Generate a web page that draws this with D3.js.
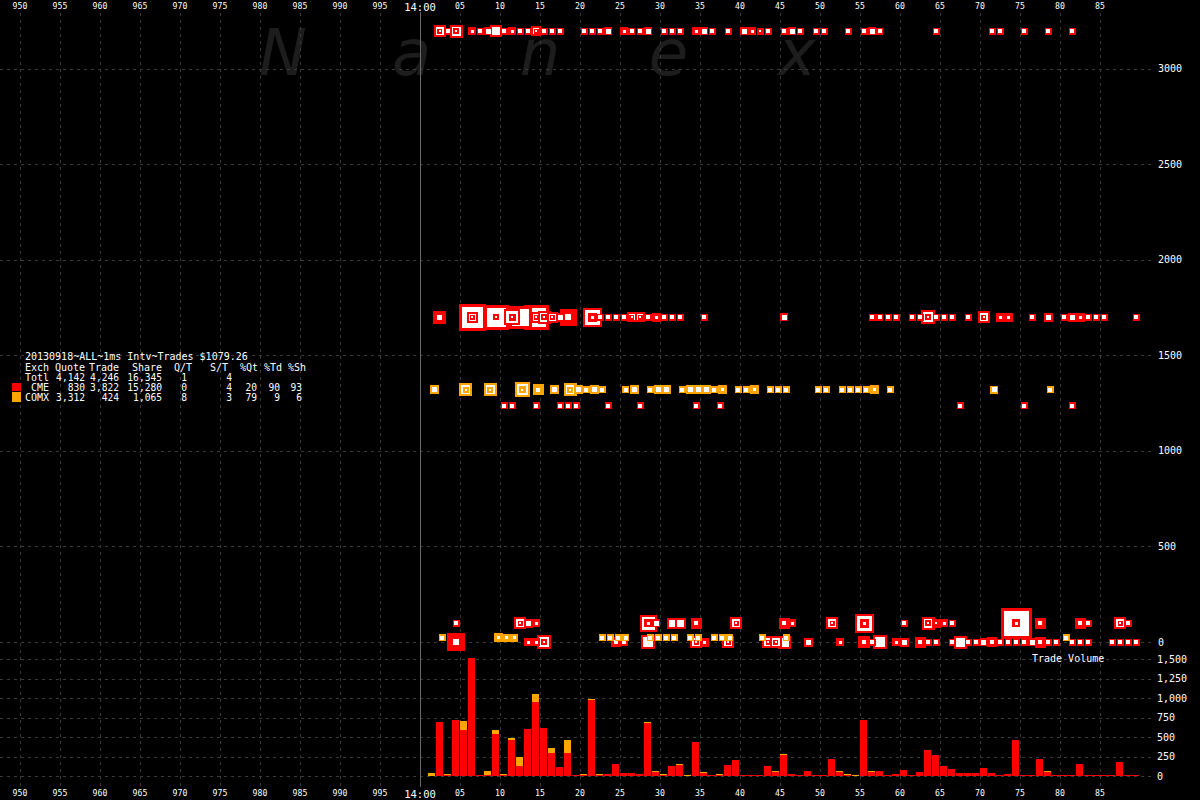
<!DOCTYPE html>
<html><head><meta charset="utf-8">
<script src="https://cdn.jsdelivr.net/npm/d3@7"></script>
<style>html,body{margin:0;background:#000;} svg{display:block}</style>
</head><body><svg id="c" width="1200" height="800"></svg>
<script>
// ---------------- data ----------------
const xTicks = d3.range(950, 1090, 5);               // ms after 13:59:59.000 (1000 = 14:00:00.000)
const priceTicks = [0, 500, 1000, 1500, 2000, 2500, 3000];
const volTicks = [0, 250, 500, 750, 1000, 1250, 1500];
const msSlots = d3.range(1, 90);                     // 14:00:00.001 .. .089
const cmeVol = [0,700,13,727,598,1521,8,21,547,13,
  470,137,611,957,624,303,124,303,8,8,
  983,21,34,162,47,47,34,688,60,8,
  137,150,0,444,47,8,8,150,214,21,
  21,8,137,60,278,34,8,73,8,8,
  226,60,8,0,726,60,73,8,34,85,
  8,60,342,278,137,98,47,47,47,111,
  47,21,34,470,8,8,226,60,8,8,
  21,162,8,8,8,21,188,21,21];
const comxVol = [47,0,21,0,115,0,0,43,51,21,
  26,115,0,103,0,64,0,167,0,13,
  13,13,0,0,0,0,0,13,13,13,
  0,13,21,0,13,0,13,0,0,0,
  0,0,0,13,13,0,0,0,0,0,
  0,13,13,8,0,13,0,0,0,0,
  0,0,0,0,0,0,0,0,0,0,
  0,0,0,0,0,0,0,13,0,0,
  0,0,0,0,0,0,0,0,0];

// trade rows: [ms, qty, kind]   kind: o single, f heavy, c stacked, b block
const cmeRowA = 3195, cmeRowB = 1700, comxRowC = 1319, cmeRowD = 1235, cmeRowE = 97, cmeRowF = 0, comxRowF = 21;
const cmeTradesA = [[2,13,'c'],[3,4,'o'],[4,16,'c'],[6,5,'f'],[7,4,'o'],[8,5,'o'],[9,13,'o'],[10,4,'o'],[11,5,'f'],[12,4,'o'],[13,4,'o'],[14,9,'c'],[15,4,'o'],[16,4,'o'],[17,4,'o'],[20,4,'o'],[21,4,'o'],[22,4,'o'],[23,5,'o'],[25,5,'f'],[26,4,'o'],[27,4,'o'],[28,5,'o'],[30,4,'o'],[31,4,'o'],[32,4,'o'],[34,5,'f'],[35,5,'o'],[36,4,'o'],[38,4,'o'],[40,5,'o'],[41,5,'f'],[42,4,'f'],[43,4,'o'],[45,4,'o'],[46,5,'o'],[47,4,'o'],[49,4,'o'],[50,4,'o'],[53,4,'o'],[55,4,'o'],[56,5,'o'],[57,4,'o'],[64,4,'o'],[71,4,'o'],[72,4,'o'],[75,4,'o'],[78,4,'o'],[81,4,'o']];
const cmeTradesB = [[2,16,'f'],[6,75,'c'],[9,64,'b'],[11,25,'c'],[12,54,'o'],[14,64,'c'],[15,16,'c'],[16,11,'c'],[17,7,'o'],[18,28,'f'],[21,36,'c'],[22,4,'o'],[23,4,'o'],[24,4,'o'],[25,4,'o'],[26,9,'c'],[27,9,'c'],[28,4,'o'],[29,7,'f'],[30,4,'o'],[31,4,'o'],[32,4,'o'],[35,4,'o'],[45,5,'o'],[56,4,'o'],[57,4,'o'],[58,4,'o'],[59,4,'o'],[61,4,'o'],[62,4,'o'],[63,19,'c'],[64,4,'o'],[65,4,'o'],[66,4,'o'],[68,4,'o'],[70,13,'c'],[72,7,'f'],[73,7,'f'],[76,4,'o'],[78,7,'o'],[80,4,'o'],[81,7,'o'],[82,7,'f'],[83,4,'o'],[84,4,'o'],[85,4,'o'],[89,4,'o']];
const comxTradesC = [[1,7,'o'],[5,16,'c'],[8,16,'c'],[12,22,'c'],[14,11,'f'],[16,7,'o'],[18,16,'c'],[19,7,'o'],[20,4,'o'],[21,7,'o'],[22,4,'o'],[25,4,'o'],[26,7,'o'],[28,4,'o'],[29,7,'o'],[30,7,'o'],[32,4,'o'],[33,7,'o'],[34,7,'o'],[35,7,'o'],[36,4,'o'],[37,7,'f'],[39,4,'o'],[40,4,'o'],[41,7,'f'],[43,4,'o'],[44,4,'o'],[45,4,'o'],[49,4,'o'],[50,4,'o'],[52,4,'o'],[53,4,'o'],[54,4,'o'],[55,4,'o'],[56,7,'f'],[58,4,'o'],[71,5,'o'],[78,4,'o']];
const cmeTradesD = [[10,4,'o'],[11,4,'o'],[14,4,'o'],[17,4,'o'],[18,4,'o'],[19,4,'o'],[23,4,'o'],[27,4,'o'],[34,4,'o'],[37,4,'o'],[67,4,'o'],[75,4,'o'],[81,4,'o']];
const cmeTradesE = [[4,4,'o'],[12,13,'c'],[13,7,'o'],[14,5,'f'],[28,28,'c'],[29,5,'o'],[31,11,'o'],[32,11,'o'],[34,11,'f'],[39,13,'c'],[45,11,'f'],[46,5,'f'],[51,13,'c'],[55,36,'c'],[60,4,'o'],[63,16,'c'],[64,7,'c'],[65,5,'f'],[66,4,'o'],[74,100,'b'],[77,11,'f'],[82,11,'f'],[83,4,'o'],[87,13,'c'],[88,4,'o']];
const cmeTradesF = [[4,32,'f'],[13,5,'f'],[14,5,'f'],[15,19,'c'],[24,9,'f'],[25,4,'o'],[28,19,'o'],[34,13,'c'],[35,7,'f'],[38,13,'c'],[43,13,'c'],[44,13,'c'],[45,16,'o'],[48,7,'o'],[52,5,'f'],[55,13,'f'],[56,4,'o'],[57,19,'o'],[59,5,'f'],[60,7,'o'],[62,11,'f'],[63,4,'o'],[64,4,'o'],[66,4,'o'],[67,16,'o'],[68,4,'o'],[69,4,'o'],[70,5,'o'],[71,9,'f'],[72,4,'o'],[73,4,'o'],[74,4,'o'],[75,4,'o'],[76,5,'o'],[77,11,'f'],[78,4,'o'],[79,4,'o'],[81,4,'o'],[82,4,'o'],[83,4,'o'],[86,4,'o'],[87,4,'o'],[88,4,'o'],[89,4,'o']];
const comxTradesF = [[2,4,'o'],[9,7,'f'],[10,5,'f'],[11,5,'f'],[22,4,'o'],[23,4,'o'],[24,4,'o'],[25,4,'o'],[28,4,'o'],[29,4,'o'],[30,4,'o'],[31,4,'o'],[33,4,'o'],[34,4,'o'],[36,4,'o'],[37,4,'o'],[38,4,'o'],[42,4,'o'],[45,4,'o'],[80,4,'o']];

const titleText = "20130918~ALL~1ms Intv~Trades $1079.26";
const legendHeader = ["Exch","Quote","Trade","Share","Q/T","S/T","%Qt","%Td","%Sh"];
const exchNames = ["Totl"," CME","COMX"];
const quotes = ["4,142","830","3,312"];
const trades = ["4,246","3,822","424"];
const shares = ["16,345","15,280","1,065"];
const qPerT = ["1","0","8"];
const sPerT = ["4","4","3"];
const pctQt = ["","20","79"];
const pctTd = ["","90","9"];
const pctSh = ["","93","6"];
const watermark = ["N","a","n","e","x"];

// ---------------- drawing ----------------
const RED = "#ff0000", ORANGE = "#ffa500", GRID = "#3a3a3a";
const svg = d3.select("#c");
svg.append("rect").attr("width",1200).attr("height",800).attr("fill","#000");

const x = d3.scaleLinear().domain([947.5, 1097.5]).range([0, 1200]);
const yP = d3.scaleLinear().domain([0, 3000]).range([642, 68.6]);
const yV = d3.scaleLinear().domain([0, 1500]).range([776.3, 659.3]);
const sz = d3.scaleSqrt().domain([0, 100]).range([1, 31]);

// watermark
const wmX = d3.scalePoint().domain(d3.range(watermark.length)).range([283, 797]);
svg.append("g").selectAll("text").data(watermark).join("text")
  .attr("x",(d,i)=>wmX(i)).attr("y",75).attr("text-anchor","middle")
  .attr("font-family","DejaVu Sans").attr("font-weight",200).attr("font-style","italic")
  .attr("font-size",64).attr("fill","#1d1d1d").text(d=>d);

const grid = svg.append("g").attr("shape-rendering","crispEdges");
grid.selectAll(".vg").data(xTicks.filter(d=>d!==1000)).join("line")
  .attr("x1",d=>Math.round(x(d))+0.5).attr("x2",d=>Math.round(x(d))+0.5)
  .attr("y1",13).attr("y2",786).attr("stroke",GRID).attr("stroke-dasharray","3,4");
grid.selectAll(".hg").data(priceTicks).join("line")
  .attr("x1",0).attr("x2",1153).attr("y1",d=>Math.round(yP(d))+0.5).attr("y2",d=>Math.round(yP(d))+0.5)
  .attr("stroke",GRID).attr("stroke-dasharray","3,4");
grid.selectAll(".hv").data(volTicks).join("line")
  .attr("x1",0).attr("x2",1153).attr("y1",d=>Math.round(yV(d))+0.5).attr("y2",d=>Math.round(yV(d))+0.5)
  .attr("stroke",GRID).attr("stroke-dasharray","3,4");
grid.append("line").attr("x1",x(1000)+0.5).attr("x2",x(1000)+0.5).attr("y1",12).attr("y2",787)
  .attr("stroke","#6a6a6a");

// axis labels
const tickLabel = d => d===1000 ? "14:00" : (d>1000 ? d3.format("02d")(d-1000) : String(d));
for (const [yb, yb2] of [[8.8,10.5],[796,797.5]]) {
  svg.append("g").selectAll("text").data(xTicks).join("text")
    .attr("x",d=>x(d)).attr("y",d=>d===1000?yb2:yb).attr("text-anchor","middle")
    .attr("font-family","DejaVu Sans Mono").attr("font-size",d=>d===1000?10.5:8.2)
    .attr("fill","#fff").text(tickLabel);
}
svg.append("g").selectAll("text").data(priceTicks).join("text")
  .attr("x",1158).attr("y",d=>yP(d)+3.6).attr("font-family","DejaVu Sans Mono").attr("font-size",10)
  .attr("fill","#fff").text(d=>String(d));
svg.append("g").selectAll("text").data(volTicks).join("text")
  .attr("x",1157).attr("y",d=>yV(d)+3.6).attr("font-family","DejaVu Sans Mono").attr("font-size",10)
  .attr("fill","#fff").text(d=>d3.format(",")(d));
svg.append("text").attr("x",1032).attr("y",661.5).attr("font-family","DejaVu Sans Mono").attr("font-size",10)
  .attr("fill","#fff").text("Trade Volume");

// volume bars
const bars = svg.append("g").attr("shape-rendering","crispEdges");
const bw = 6.7;
msSlots.forEach((t,i)=>{
  const c = cmeVol[i], o = comxVol[i];
  const base = Math.round(yV(0));
  let topC = base;
  if (c>0) { topC = Math.min(base-1, Math.round(yV(c)));
    bars.append("rect").attr("x",x(1000+t)).attr("y",topC).attr("width",bw).attr("height",base-topC).attr("fill",RED); }
  if (o>0) { let topO = Math.min(topC-1, Math.round(yV(c+o)));
    bars.append("rect").attr("x",x(1000+t)).attr("y",topO).attr("width",bw).attr("height",topC-topO).attr("fill",ORANGE); }
});

// trade markers
const marks = [];
function addRow(list, val, col, off){
  list.forEach(([t,q,k])=>marks.push({cx:x(1000+t+off), cy:yP(val), s:Math.round(sz(q)), k, col}));
}
addRow(cmeTradesA, cmeRowA, RED, 0.5);
addRow(cmeTradesB, cmeRowB, RED, 0.5);
addRow(comxTradesC, comxRowC, ORANGE, 0.75);
addRow(cmeTradesD, cmeRowD, RED, 0.5);
addRow(cmeTradesE, cmeRowE, RED, 0.5);
addRow(cmeTradesF, cmeRowF, RED, 0.5);
addRow(comxTradesF, comxRowF, ORANGE, 0.75);
const mg = svg.append("g").attr("shape-rendering","crispEdges");
function sq(cx,cy,s,fill){ if(s<=0) return; mg.append("rect").attr("x",Math.round(cx-s/2)).attr("y",Math.round(cy-s/2)).attr("width",s).attr("height",s).attr("fill",fill); }
function openSq(cx,cy,s,col){ const b = s>=20?3:(s<=8?1.5:2); sq(cx,cy,s,col); sq(cx,cy,s-2*b,"#fff"); }
function fillSq(cx,cy,s,col){ sq(cx,cy,s,col); sq(cx,cy,Math.max(2,Math.round(s*0.35)),"#fff"); }
marks.map((m,i)=>({...m,i})).sort((a,b)=>b.s-a.s||a.i-b.i).forEach(m=>{
  const {cx,cy,s,k,col} = m;
  if (k==='o') openSq(cx,cy,s,col);
  else if (k==='f') fillSq(cx,cy,s,col);
  else if (k==='b') { openSq(cx,cy,s,col); fillSq(cx,cy,Math.max(5,Math.round(s*0.25)),col); }
  else { openSq(cx,cy,s,col);
    if (s>=20) { openSq(cx,cy,Math.round(s*0.42),col); fillSq(cx,cy,Math.max(5,Math.round(s*0.2)),col); }
    else fillSq(cx,cy,Math.max(5,Math.round(s*0.45)),col); }
});

// legend
const lg = svg.append("g").attr("font-family","DejaVu Sans Mono").attr("fill","#fff");
lg.append("text").attr("x",25).attr("y",360.3).attr("font-size",10).text(titleText);
const colRight = [null,85,119,162,187,232,257,280,302];
const hdrRight = [null,85,119,162,192,228,258,282,306];
const rowY = [370.5,380.7,390.9,401.1];
lg.append("text").attr("x",25).attr("y",rowY[0]).attr("font-size",10).text(legendHeader[0]);
legendHeader.slice(1).forEach((h,i)=>lg.append("text").attr("x",hdrRight[i+1]).attr("y",rowY[0])
  .attr("text-anchor","end").attr("font-size",10).text(h));
const cols = [quotes,trades,shares,qPerT,sPerT,pctQt,pctTd,pctSh];
exchNames.forEach((n,r)=>{
  lg.append("text").attr("x",25).attr("y",rowY[r+1]).attr("font-size",10).attr("xml:space","preserve").text(n);
  cols.forEach((c,j)=>lg.append("text").attr("x",colRight[j+1]).attr("y",rowY[r+1])
    .attr("text-anchor","end").attr("font-size",9.6).text(c[r]));
});
svg.append("rect").attr("x",12).attr("y",383).attr("width",9).attr("height",8).attr("fill",RED);
svg.append("rect").attr("x",12).attr("y",392).attr("width",9).attr("height",10).attr("fill",ORANGE);
</script></body></html>
